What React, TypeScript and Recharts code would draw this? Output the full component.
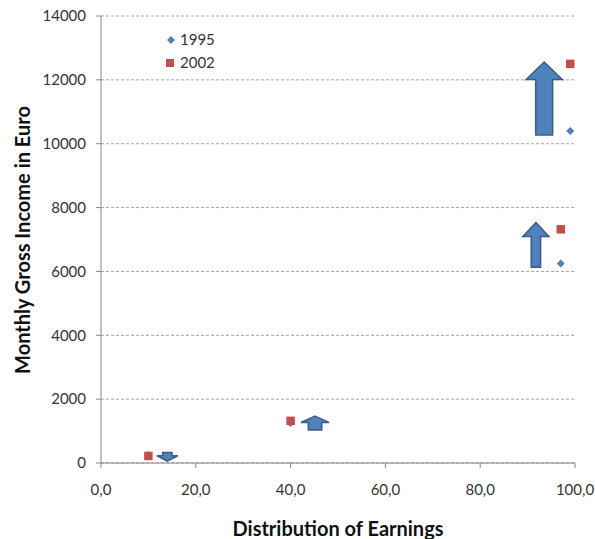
import {
  ScatterChart,
  Scatter,
  XAxis,
  YAxis,
  CartesianGrid,
  ReferenceArea,
  Label,
} from "recharts";

// Earnings percentile vs. monthly gross income (EUR)
const percentiles1995 = [10, 40, 97, 99];
const income1995 = [250, 1250, 6250, 10400];
const percentiles2002 = [10, 40, 97, 99];
const income2002 = [220, 1320, 7320, 12500];

const seriesNames = ["1995", "2002"];
const xTicks = [0, 20, 40, 60, 80, 100];
const yTicks = [0, 2000, 4000, 6000, 8000, 10000, 12000, 14000];

// Block arrows showing the change between the two years (data units)
const arrowX1 = [11.8, 42.2, 89.0, 89.7];
const arrowX2 = [16.2, 48.1, 94.5, 97.3];
const arrowFrom = [330, 1030, 6130, 10270];
const arrowTo = [60, 1470, 7530, 12560];
const arrowHead = [0.62, 0.45, 0.31, 0.24];
const arrowShaft = [0.45, 0.48, 0.36, 0.47];

const data1995 = percentiles1995.map((x, i) => ({ x, y: income1995[i] }));
const data2002 = percentiles2002.map((x, i) => ({ x, y: income2002[i] }));
const arrows = arrowX1.map((x1, i) => ({
  x1,
  x2: arrowX2[i],
  from: arrowFrom[i],
  to: arrowTo[i],
  head: arrowHead[i],
  shaft: arrowShaft[i],
}));

const BLUE = "#4F81BD";
const RED = "#C0504D";
const AXIS = "#868686";
const TEXT = "#333333";
const FONT = "Lato, 'Open Sans', sans-serif";

const Diamond = (props: any) => {
  const { cx, cy } = props;
  const r = 4;
  return (
    <polygon
      points={`${cx},${cy - r} ${cx + r},${cy} ${cx},${cy + r} ${cx - r},${cy}`}
      fill={BLUE}
    />
  );
};

const Square = (props: any) => {
  const { cx, cy } = props;
  const s = 8.5;
  return <rect x={cx - s / 2} y={cy - s / 2} width={s} height={s} fill={RED} />;
};

const makeArrow = (up: boolean, head: number, shaft: number) => (props: any) => {
  const { x, y, width: w, height: h } = props;
  const cx = x + w / 2;
  const sw = (w * shaft) / 2;
  const hh = h * head;
  const pts = up
    ? [
        [cx, y],
        [x + w, y + hh],
        [cx + sw, y + hh],
        [cx + sw, y + h],
        [cx - sw, y + h],
        [cx - sw, y + hh],
        [x, y + hh],
      ]
    : [
        [cx, y + h],
        [x + w, y + h - hh],
        [cx + sw, y + h - hh],
        [cx + sw, y],
        [cx - sw, y],
        [cx - sw, y + h - hh],
        [x, y + h - hh],
      ];
  return (
    <polygon
      points={pts.map((p) => p.join(",")).join(" ")}
      fill={BLUE}
      stroke="#385D8A"
      strokeWidth={1.5}
    />
  );
};

// legend sits inside the plot, top-left
const LegendBox = () => (
  <div
    style={{
      position: "absolute",
      left: 164,
      top: 28,
      fontFamily: FONT,
      fontSize: 15,
      color: TEXT,
      lineHeight: "23px",
    }}
  >
    {seriesNames.map((name, i) => (
      <div key={name} style={{ display: "flex", alignItems: "center" }}>
        <svg width={12} height={12} style={{ marginRight: 4 }}>
          {i === 0 ? (
            <polygon points="7,2 11,6 7,10 3,6" fill={BLUE} />
          ) : (
            <rect x={2} y={2} width={8} height={8} fill={RED} />
          )}
        </svg>
        {name}
      </div>
    ))}
  </div>
);

export default function App() {
  return (
    <div style={{ position: "absolute", left: 0, top: 0, background: "#fff" }}>
      <ScatterChart
        width={595}
        height={539}
        margin={{ top: 16, right: 20, bottom: 46, left: 0 }}
        style={{ fontFamily: FONT }}
      >
        <CartesianGrid
          vertical={false}
          stroke="#a6a6a6"
          strokeDasharray="3 2"
        />
        <XAxis
          type="number"
          dataKey="x"
          domain={[0, 100]}
          ticks={xTicks}
          height={30}
          tickSize={5}
          tickMargin={16}
          stroke={AXIS}
          tick={{ fill: TEXT, fontSize: 15 }}
          tickFormatter={(v: number) => v.toFixed(1).replace(".", ",")}
        >
          <Label
            content={() => (
              <text
                x={338}
                y={528}
                textAnchor="middle"
                dominantBaseline="central"
                fontSize={20}
                fontWeight="bold"
                fill="#111"
              >
                Distribution of Earnings
              </text>
            )}
          />
        </XAxis>
        <YAxis
          type="number"
          dataKey="y"
          domain={[0, 14000]}
          ticks={yTicks}
          width={101}
          tickSize={5}
          tickMargin={10}
          stroke={AXIS}
          tick={{ fill: TEXT, fontSize: 15 }}
        >
          <Label
            content={() => (
              <text
                x={22}
                y={240}
                transform="rotate(-90 22 240)"
                textAnchor="middle"
                dominantBaseline="central"
                fontSize={20}
                fontWeight="bold"
                fill="#111"
              >
                Monthly Gross Income in Euro
              </text>
            )}
          />
        </YAxis>
        <Scatter
          name={seriesNames[0]}
          data={data1995}
          shape={Diamond}
          isAnimationActive={false}
        />
        <Scatter
          name={seriesNames[1]}
          data={data2002}
          shape={Square}
          isAnimationActive={false}
        />
        {arrows.map((a, i) => {
          const up = a.to > a.from;
          return (
            <ReferenceArea
              key={i}
              x1={a.x1}
              x2={a.x2}
              y1={Math.min(a.from, a.to)}
              y2={Math.max(a.from, a.to)}
              shape={makeArrow(up, a.head, a.shaft)}
            />
          );
        })}
      </ScatterChart>
      <LegendBox />
    </div>
  );
}
